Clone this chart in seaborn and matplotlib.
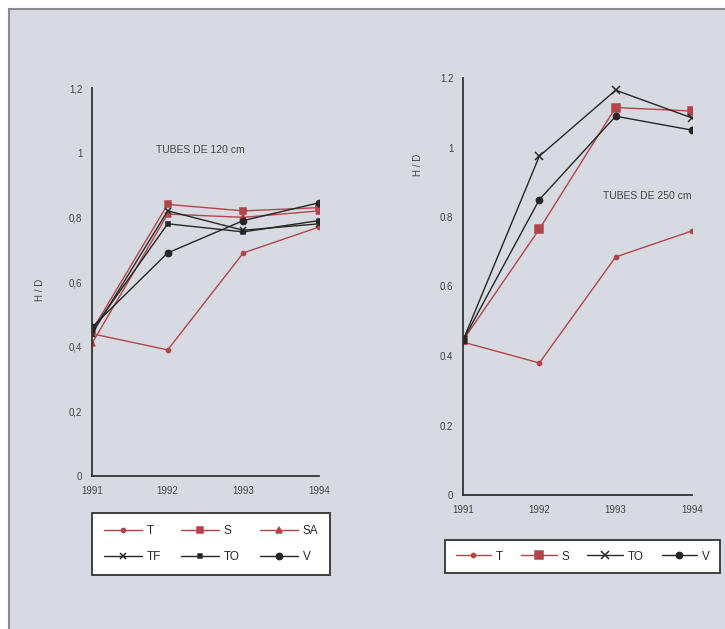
import matplotlib
matplotlib.use("Agg")
import matplotlib.pyplot as plt
import seaborn as sns
from matplotlib.patches import Rectangle

# data
years = [1991, 1992, 1993, 1994]

# tubes de 120 cm
t_120 = [0.44, 0.39, 0.69, 0.77]
s_120 = [0.45, 0.84, 0.82, 0.83]
sa_120 = [0.41, 0.81, 0.80, 0.82]
tf_120 = [0.44, 0.82, 0.76, 0.78]
to_120 = [0.45, 0.78, 0.755, 0.79]
v_120 = [0.46, 0.69, 0.79, 0.845]

# tubes de 250 cm
t_250 = [0.44, 0.38, 0.685, 0.76]
s_250 = [0.445, 0.765, 1.115, 1.105]
to_250 = [0.445, 0.975, 1.165, 1.085]
v_250 = [0.445, 0.85, 1.09, 1.05]

left_ticks = ["0", "0,2", "0,4", "0,6", "0,8", "1", "1,2"]
right_ticks = ["0", "0.2", "0.4", "0.6", "0.8", "1", "1.2"]

RED = "#b2454a"
BLK = "#262626"
BG = "#d7dbe1"

sns.set_theme(style="white")
plt.rcParams["font.family"] = ["Liberation Sans", "DejaVu Sans"]

fig = plt.figure(figsize=(7.25, 6.29), dpi=100, facecolor="white")
fig.patches.append(Rectangle((9 / 725, -0.02), 1.0, 1 - 9 / 629 + 0.02,
                             transform=fig.transFigure, facecolor=BG,
                             edgecolor="#8a8a90", linewidth=1.5, zorder=-10))

ax1 = fig.add_axes([92 / 725, 1 - 476 / 629, 227 / 725, 388 / 629])
ax2 = fig.add_axes([463 / 725, 1 - 495 / 629, 229 / 725, 417 / 629])

series_120 = [
    ("T", t_120, RED, "o", 3),
    ("S", s_120, RED, "s", 4.5),
    ("SA", sa_120, RED, "^", 5),
    ("TF", tf_120, BLK, "x", 4.5),
    ("TO", to_120, BLK, "s", 3.5),
    ("V", v_120, BLK, "o", 4.5),
]
series_250 = [
    ("T", t_250, RED, "o", 3),
    ("S", s_250, RED, "s", 5.5),
    ("TO", to_250, BLK, "x", 5.5),
    ("V", v_250, BLK, "o", 4.5),
]

for ax, series in [(ax1, series_120), (ax2, series_250)]:
    for name, vals, col, mk, ms in series:
        sns.lineplot(x=years, y=vals, ax=ax, color=col, marker=mk,
                     markersize=ms, markeredgecolor=col, markeredgewidth=1.1,
                     linewidth=1.0, label=name)
    ax.set_facecolor("none")
    ax.set_xlim(1991, 1994)
    ax.set_ylim(0, 1.2)
    ax.set_xticks(years)
    ax.set_yticks([0, 0.2, 0.4, 0.6, 0.8, 1.0, 1.2])
    for side in ["top", "right"]:
        ax.spines[side].set_visible(False)
    for side in ["left", "bottom"]:
        ax.spines[side].set_color("#333333")
        ax.spines[side].set_linewidth(1.3)
    ax.tick_params(direction="inout", length=8, width=1.2, color="#333333",
                   labelsize=7, labelcolor="#444444", pad=3)
    ax.get_legend().remove()

ax1.set_yticklabels(left_ticks)
ax2.set_yticklabels(right_ticks)

fig.text(40 / 725, 1 - 290 / 629, "H / D", rotation=90, ha="center",
         va="center", fontsize=7, color="#444444")
fig.text(418 / 725, 1 - 165 / 629, "H / D", rotation=90, ha="center",
         va="center", fontsize=7, color="#444444")

fig.text(200 / 725, 1 - 150 / 629, "TUBES DE 120 cm", ha="center",
         va="center", fontsize=7.5, color="#444444")
fig.text(647 / 725, 1 - 196 / 629, "TUBES DE 250 cm", ha="center",
         va="center", fontsize=7.5, color="#444444")

# legend filled row by row: T S SA / TF TO V
h1, l1 = ax1.get_legend_handles_labels()
order = [0, 3, 1, 4, 2, 5]
leg1 = fig.legend([h1[i] for i in order], [l1[i] for i in order],
                  loc="upper left", ncol=3,
                  bbox_to_anchor=(92 / 725, 1 - 513 / 629), borderaxespad=0,
                  fontsize=8.5, frameon=True, fancybox=False, framealpha=1,
                  edgecolor="#333333", facecolor="white", handlelength=3.2,
                  columnspacing=1.75, handletextpad=0.4, borderpad=1.0,
                  labelspacing=1.2)
leg1.get_frame().set_linewidth(1.3)

h2, l2 = ax2.get_legend_handles_labels()
leg2 = fig.legend(h2, l2, loc="upper left", ncol=4,
                  bbox_to_anchor=(445 / 725, 1 - 540 / 629), borderaxespad=0,
                  fontsize=8.5, frameon=True, fancybox=False, framealpha=1,
                  edgecolor="#333333", facecolor="white", handlelength=3.0,
                  columnspacing=1.55, handletextpad=0.4, borderpad=0.9)
leg2.get_frame().set_linewidth(1.3)

fig.savefig("out.png", dpi=100, facecolor=fig.get_facecolor())
